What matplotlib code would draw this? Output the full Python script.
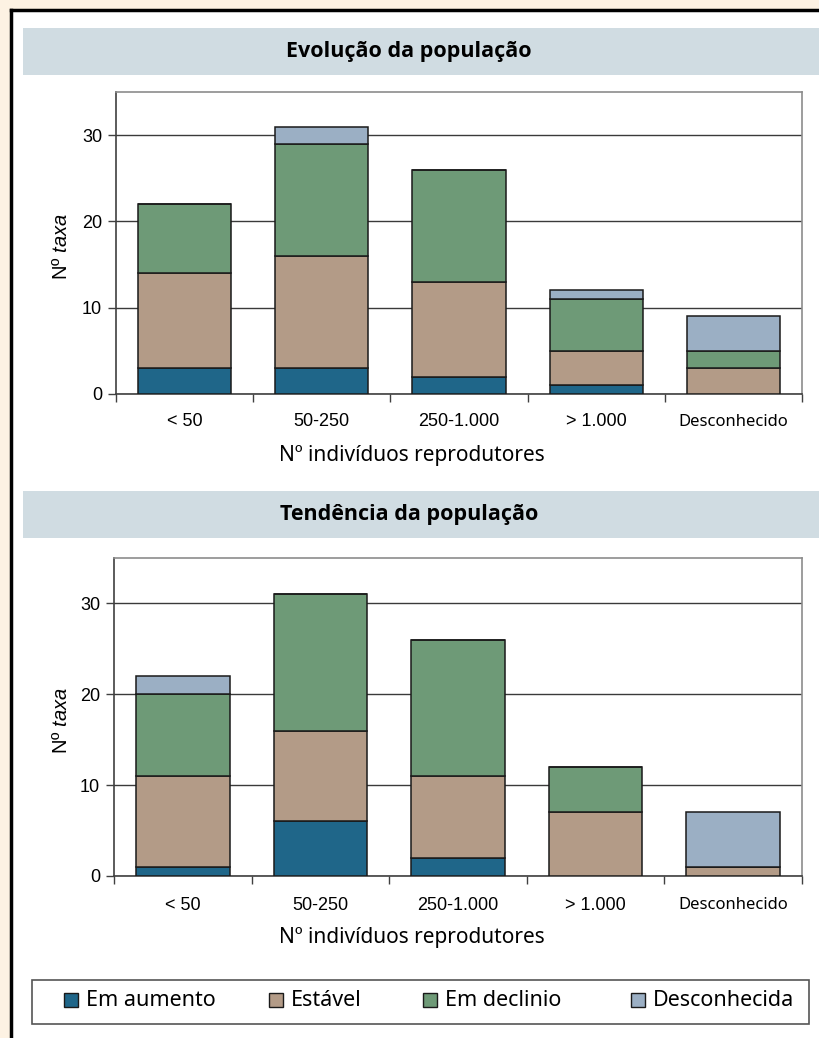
import numpy as np
import matplotlib.pyplot as plt
from matplotlib.patches import Rectangle
from matplotlib.lines import Line2D

plt.rcParams['font.family'] = ['Liberation Sans', 'DejaVu Sans']
plt.rcParams['mathtext.fontset'] = 'custom'
plt.rcParams['mathtext.rm'] = 'Liberation Sans'
plt.rcParams['mathtext.it'] = 'Liberation Sans:italic'

#%% data
categories = ["< 50", "50-250", "250-1.000", "> 1.000", "Desconhecido"]
series = ["Em aumento", "Estável", "Em declinio", "Desconhecida"]
colors = ["#1f6689", "#b39b87", "#6e9a77", "#9bafc4"]

# Evolução da população
evo_aumento = [3, 3, 2, 1, 0]
evo_estavel = [11, 13, 11, 4, 3]
evo_declinio = [8, 13, 13, 6, 2]
evo_desconh = [0, 2, 0, 1, 4]

# Tendência da população
ten_aumento = [1, 6, 2, 0, 0]
ten_estavel = [10, 10, 9, 7, 1]
ten_declinio = [9, 15, 15, 5, 0]
ten_desconh = [2, 0, 0, 0, 6]

W, H = 819, 1038
CREAM = "#fdf2e3"
BAR_BG = "#d0dce2"


def fx(x):
    return x / W


def fy(y):
    return 1 - y / H


def fig_rect(x0, y0, x1, y1):
    """pixel box (top-left origin) -> figure fraction rect"""
    return [fx(x0), fy(y1), (x1 - x0) / W, (y1 - y0) / H]


def stacked(ax, stacks):
    x = np.arange(len(categories))
    bottom = np.zeros(len(categories))
    for vals, c in zip(stacks, colors):
        vals = np.array(vals, dtype=float)
        ax.bar(x, vals, bottom=bottom, width=0.68, color=c,
               edgecolor="#1a1a1a", linewidth=1.1, zorder=3)
        bottom += vals
    ax.set_xlim(-0.5, len(categories) - 0.5)
    ax.set_ylim(0, 35)
    ax.set_yticks([0, 10, 20, 30])
    ax.yaxis.grid(True, color="#3a3a3a", linewidth=1.0, zorder=0)
    ax.set_axisbelow(True)
    ax.tick_params(axis="y", length=6, width=1, color="#404040",
                   labelsize=13, pad=4)
    # ticks between the categories, no labels on them
    ax.set_xticks(np.arange(len(categories) + 1) - 0.5)
    ax.set_xticklabels([])
    ax.tick_params(axis="x", length=6, width=1, color="#404040")
    for s in ["top", "right"]:
        ax.spines[s].set_color("#8c8c8c")
        ax.spines[s].set_linewidth(1.2)
    for s in ["left", "bottom"]:
        ax.spines[s].set_color("#404040")
        ax.spines[s].set_linewidth(1.2)
    ax.set_facecolor("white")
    for i, lab in enumerate(categories):
        if lab == "Desconhecido":
            ax.text(i, -3.2, lab, ha="center", va="center", fontsize=12,
                    family=["Noto Sans", "DejaVu Sans"])
        else:
            ax.text(i, -3.2, lab, ha="center", va="center", fontsize=13)


fig = plt.figure(figsize=(W / 100, H / 100), dpi=100, facecolor=CREAM)

# white page with black frame on left/top
fig.patches.append(Rectangle((fx(11), 0), 1, fy(10), transform=fig.transFigure,
                             facecolor="white", edgecolor="none", zorder=-3))
fig.lines.append(Line2D([fx(10.5), fx(10.5)], [0, fy(9.5)], transform=fig.transFigure,
                        color="black", linewidth=2.5, zorder=-2))
fig.lines.append(Line2D([fx(10.5), 1], [fy(9.5), fy(9.5)], transform=fig.transFigure,
                        color="black", linewidth=2.5, zorder=-2))

panels = [
    ("Evolução da população", (28, 75), (116, 92, 802, 394),
     [evo_aumento, evo_estavel, evo_declinio, evo_desconh]),
    ("Tendência da população", (491, 538), (114, 558, 802, 876),
     [ten_aumento, ten_estavel, ten_declinio, ten_desconh]),
]

for title, (ty0, ty1), box, stacks in panels:
    fig.patches.append(Rectangle((fx(23), fy(ty1)), 1 - fx(23), (ty1 - ty0) / H,
                                 transform=fig.transFigure, facecolor=BAR_BG,
                                 edgecolor="none", zorder=-1))
    fig.text(fx(409), fy((ty0 + ty1) / 2), title, ha="center", va="center",
             fontsize=15.5, fontweight="bold", family=["Open Sans", "DejaVu Sans"])
    ax = fig.add_axes(fig_rect(*box))
    stacked(ax, stacks)
    x0, y0, x1, y1 = box
    fig.text(fx(412), fy(y1 + 62), "Nº indivíduos reprodutores",
             ha="center", va="center", fontsize=15, family=["Noto Sans", "DejaVu Sans"])
    fig.text(fx(62), fy((y0 + y1) / 2 + 4), "Nº $\\mathit{taxa}$", rotation=90,
             ha="center", va="center", fontsize=14.5)

# legend box drawn by hand so the entries sit where they should
fig.patches.append(Rectangle((fx(32), fy(1024)), (809 - 32) / W, (1024 - 980) / H,
                             transform=fig.transFigure, facecolor="white",
                             edgecolor="#555555", linewidth=1.2, zorder=2))
entry_x = [64, 269, 423, 631]
for lx, name, c in zip(entry_x, series, colors):
    fig.patches.append(Rectangle((fx(lx), fy(1007)), 14 / W, 14 / H,
                                 transform=fig.transFigure, facecolor=c,
                                 edgecolor="#1a1a1a", linewidth=1.0, zorder=3))
    fig.text(fx(lx + 22), fy(1001), name, ha="left", va="center", fontsize=15.5,
             family=["Noto Sans", "DejaVu Sans"], zorder=3)

fig.savefig("out.png", dpi=100, facecolor=CREAM)
